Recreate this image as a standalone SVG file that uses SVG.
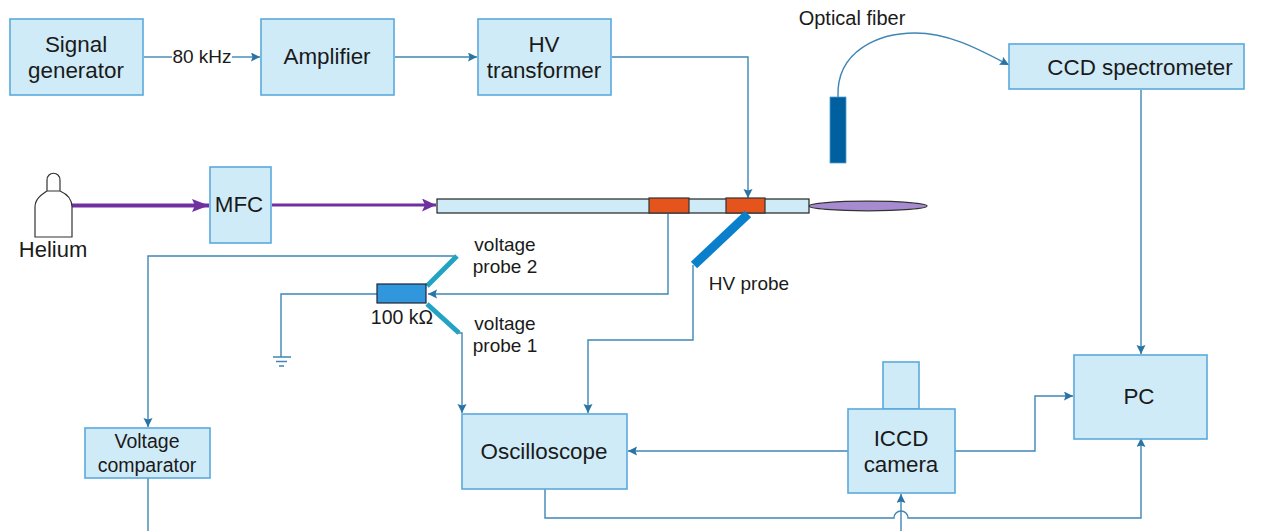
<svg xmlns="http://www.w3.org/2000/svg" width="1278" height="531" viewBox="0 0 1278 531">
<style>
text{font-family:"Liberation Sans",Arial,sans-serif;fill:#1a1a1a;text-anchor:middle}
.b{fill:#d0ebf8;stroke:#5aa9dc;stroke-width:1.6}
.t22{font-size:22.400px}.t20{font-size:22px}.t18{font-size:19px}.t19{font-size:19.500px}
.c{fill:none;stroke:#3f86b5;stroke-width:1.4}
.a{marker-end:url(#ah)}
.p{fill:none;stroke:#7030a0;stroke-width:4}
</style>
<defs>
<marker id="ah" markerUnits="userSpaceOnUse" markerWidth="10" markerHeight="10" refX="9" refY="4.500" orient="auto"><path d="M0,0L9,4.500L0,9L1.500,4.500Z" fill="#2a74a5"/></marker>
<marker id="pa" markerUnits="userSpaceOnUse" markerWidth="18" markerHeight="14" refX="17" refY="6.500" orient="auto"><path d="M0,0L17,6.500L0,13L3,6.500Z" fill="#7030a0"/></marker>
<marker id="pb" markerUnits="userSpaceOnUse" markerWidth="16" markerHeight="14" refX="14" refY="6.500" orient="auto"><path d="M0,0L14,6.500L0,13L3,6.500Z" fill="#7030a0"/></marker>
</defs>
<g id="connectors">
<path class="c" d="M144,57H172"/>
<path class="c a" d="M232,57H260"/>
<path class="c a" d="M395,57H477"/>
<path class="c a" d="M612,57H748V198"/>
<path class="c a" d="M838,97C836,50 880,33 915,33C950,33 980,50 1009,65"/>
<path class="c a" d="M1141,90V354"/>
<path class="p" style="marker-end:url(#pa)" d="M72,205.500H209"/>
<path class="p" style="stroke-width:3;marker-end:url(#pb)" d="M272,205H436"/>
<path class="c a" d="M668,214V294H428"/>
<path class="c" d="M377,294H281V357"/>
<path class="c" d="M273,357H291M276,361.500H287M279,366H284"/>
<path class="c a" d="M456,256H148V427"/>
<path class="c a" d="M458,333H462V413"/>
<path class="c a" d="M693,265V340H588V413"/>
<path class="c a" d="M848,451H628"/>
<path class="c a" d="M955,451H1035V396H1073"/>
<path class="c" d="M148,478V531"/>
<path class="c a" d="M901,531V494"/>
<path class="c a" d="M545,489V518H894A7,7 0 0 1 908,518H1141V438"/>
</g>
<g id="signal-generator"><rect class="b" x="10" y="19" width="133" height="76"/><text class="t22" x="76" y="52">Signal</text><text class="t22" x="76" y="78">generator</text></g>
<text class="t18" x="202" y="63">80 kHz</text>
<g id="amplifier"><rect class="b" x="261" y="19" width="133" height="76"/><text class="t22" x="327" y="64">Amplifier</text></g>
<g id="hv-transformer"><rect class="b" x="478" y="19" width="133" height="76"/><text class="t22" x="544" y="52">HV</text><text class="t22" x="544" y="78">transformer</text></g>
<text class="t19" x="852" y="25" style="font-size:20px">Optical fiber</text>
<rect x="830" y="97" width="16" height="66" fill="#005f9e" stroke="#4f9fd0" stroke-width="0.800"/>
<g id="ccd-spectrometer"><rect class="b" x="1009" y="44" width="235" height="45"/><text class="t22" x="1140" y="75">CCD spectrometer</text></g>
<g id="helium"><path d="M35,237V207C35,198 43,194 47,191H60C67,194 72,198 72,207V237Z M47,191V180C47,171 60,171 60,180V191" fill="#fff" stroke="#333" stroke-width="1.200"/><text class="t20" x="53" y="257">Helium</text></g>
<g id="mfc"><rect class="b" x="210" y="167" width="61" height="76"/><text class="t22" x="239" y="212">MFC</text></g>
<g id="tube">
<ellipse cx="868" cy="206" rx="59" ry="4.800" fill="#a78bd0" stroke="#333" stroke-width="1.200"/>
<rect x="437" y="199" width="372" height="14" fill="#d0ebf8" stroke="#222" stroke-width="1.200"/>
<rect x="649" y="198" width="40" height="15" fill="#e4541c" stroke="#333" stroke-width="1.200"/>
<rect x="726" y="198" width="39" height="15" fill="#e4541c" stroke="#333" stroke-width="1.200"/>
</g>
<path d="M748,214L694,265" fill="none" stroke="#0a80cc" stroke-width="9"/>
<text class="t18" x="749" y="290">HV probe</text>
<path d="M427,286L457,256M427,304L459,333" fill="none" stroke="#22a3c4" stroke-width="5"/>
<g id="resistor"><rect x="377" y="284" width="49" height="19" fill="#3197dc" stroke="#223" stroke-width="1.200"/><text class="t19" x="402" y="324">100 kΩ</text></g>
<text class="t18" x="505" y="251">voltage</text><text class="t18" x="505" y="273">probe 2</text>
<text class="t18" x="505" y="330">voltage</text><text class="t18" x="505" y="352">probe 1</text>
<g id="voltage-comparator"><rect class="b" x="85" y="428" width="125" height="50"/><text class="t19" x="147" y="448">Voltage</text><text class="t19" x="147" y="472">comparator</text></g>
<g id="oscilloscope"><rect class="b" x="462" y="414" width="165" height="75"/><text class="t22" x="544" y="459">Oscilloscope</text></g>
<g id="iccd-camera"><rect class="b" x="883" y="362" width="36" height="47"/><rect class="b" x="848" y="409" width="107" height="84"/><text class="t22" x="901" y="446">ICCD</text><text class="t22" x="901" y="472">camera</text></g>
<g id="pc"><rect class="b" x="1074" y="355" width="133" height="84"/><text class="t22" x="1139" y="404">PC</text></g>
</svg>
